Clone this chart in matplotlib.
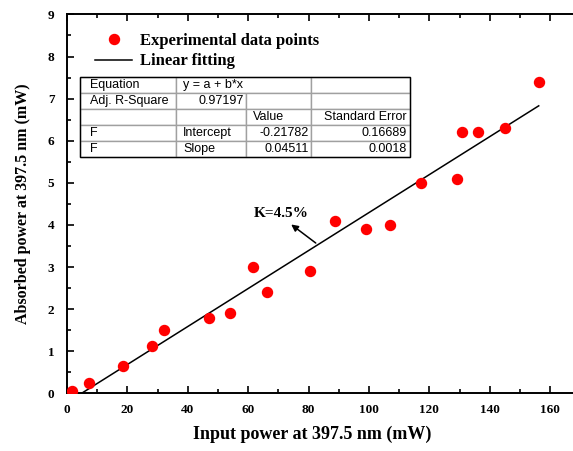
"""Absorbed vs input power at 397.5 nm with a linear fit and the fit table."""

import matplotlib

matplotlib.use("Agg")
import matplotlib.pyplot as plt
import numpy as np

input_power = [1.6, 7.3, 18.6, 28.2, 32.2, 47.0, 54.1, 61.5, 66.2, 80.5, 88.6,
               98.9, 107.0, 117.1, 129.0, 130.9, 136.1, 145.1, 156.2]
absorbed_power = [0.05, 0.25, 0.65, 1.12, 1.5, 1.8, 1.9, 3.0, 2.4, 2.9, 4.1,
                  3.9, 4.0, 5.0, 5.1, 6.2, 6.2, 6.3, 7.4]

fit_intercept = -0.21782
fit_slope = 0.04511
fit_range = [4.83, 156.2]

table_rows = [
    ["Equation", "y = a + b*x", "", ""],
    ["Adj. R-Square", "0.97197", "", ""],
    ["", "", "Value", "Standard Error"],
    ["F", "Intercept", "-0.21782", "0.16689"],
    ["F", "Slope", "0.04511", "0.0018"],
]

SERIF = ["Liberation Serif", "DejaVu Serif"]
SANS = ["Liberation Sans", "DejaVu Sans"]

XMAX = 176  # right spine falls off the canvas, as in the original crop
PX_PER_UNIT = 3.02

fig = plt.figure(figsize=(5.73, 4.51), dpi=100)
ax = fig.add_axes([67 / 573, 57.7 / 451, XMAX * PX_PER_UNIT / 573, 378.9 / 451])

ax.plot(input_power, absorbed_power, "o", color="red", markersize=7.2,
        label="Experimental data points", zorder=3)
fx = np.array(fit_range)
ax.plot(fx, fit_intercept + fit_slope * fx, "-", color="black", lw=1.1,
        label="Linear fitting")

ax.set_xlim(0, XMAX)
ax.set_ylim(0, 9)
ax.set_xticks(np.arange(0, 161, 20))
ax.set_xticks(np.arange(0, XMAX, 10), minor=True)
ax.set_yticks(np.arange(0, 10, 1))
ax.set_yticks(np.arange(0, 9.01, 0.5), minor=True)
ax.tick_params(which="both", direction="in", top=True, width=1.2)
ax.tick_params(which="major", length=5)
ax.tick_params(which="minor", length=3)
ax.tick_params(axis="x", labelsize=9.5, pad=8)
ax.tick_params(axis="y", labelsize=9.5, pad=9)
for lab in ax.get_xticklabels() + ax.get_yticklabels():
    lab.set_family(SERIF)
    lab.set_fontweight("bold")
for sp in ax.spines.values():
    sp.set_linewidth(1.4)

ax.set_xlabel("Input power at 397.5 nm (mW)", family=SERIF, fontweight="bold",
              fontsize=13, labelpad=8)
ax.set_ylabel("Absorbed power at 397.5 nm (mW)", family=SERIF, fontweight="bold",
              fontsize=11.5, labelpad=12)
ax.xaxis.set_label_coords(245 / (XMAX * PX_PER_UNIT), -0.085)

ax.legend(loc="upper left", bbox_to_anchor=(0.025, 0.99), frameon=False,
          prop={"family": SERIF, "weight": "bold", "size": 12},
          handlelength=2.2, handletextpad=0.5, labelspacing=0.25)

# fit table, Origin style
tx0 = 13 / (XMAX * PX_PER_UNIT)
tw = 330 / (XMAX * PX_PER_UNIT)
tbl = ax.table(cellText=table_rows, bbox=[tx0, 0.624, tw, 0.211],
               colWidths=[0.291, 0.212, 0.197, 0.300], cellLoc="left")
tbl.auto_set_font_size(False)
for (r, c), cell in tbl.get_celld().items():
    cell.set_edgecolor("#a0a0a0")
    cell.set_linewidth(1.0)
    txt = cell.get_text()
    txt.set_fontsize(9)
    txt.set_family(SANS)
    if (r == 1 and c == 1) or (r >= 3 and c >= 2) or (r == 2 and c == 3):
        txt.set_horizontalalignment("right")
        cell.PAD = 0.03
    if r == 0 and c == 1:
        cell.visible_edges = "BTL"
    if r == 0 and c == 2:
        cell.visible_edges = "BTR"
ax.add_patch(plt.Rectangle((tx0, 0.624), tw, 0.211, transform=ax.transAxes,
                           fill=False, edgecolor="black", lw=1.0, zorder=5))

ax.annotate("", xy=(73.5, 4.05), xytext=(83.1, 3.53),
            arrowprops=dict(arrowstyle="-|>", color="black", lw=1.1,
                            mutation_scale=10))
ax.text(71.0, 4.28, "K=4.5%", family=SERIF, fontweight="bold", fontsize=11,
        ha="center", va="center")

fig.savefig("out.png", dpi=100)
